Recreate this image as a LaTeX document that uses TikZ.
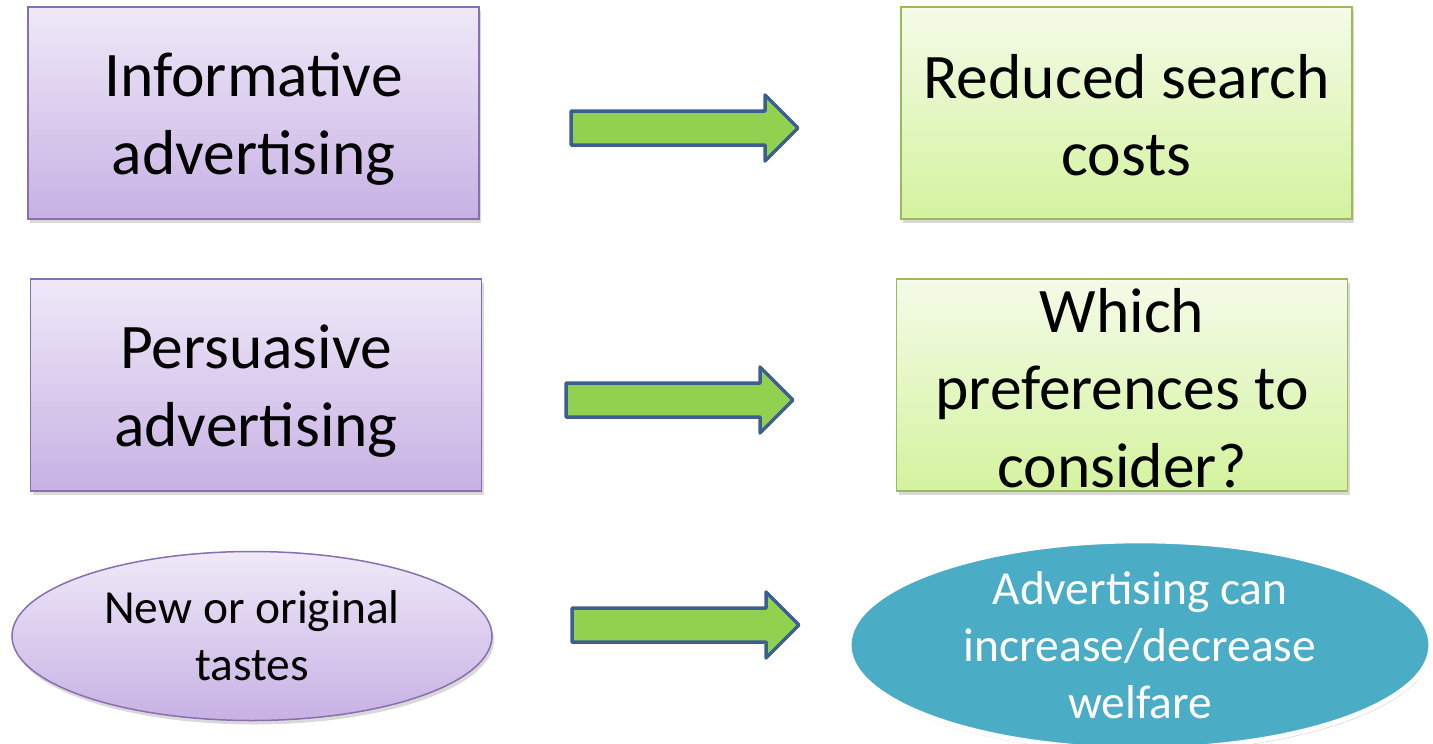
\documentclass[tikz,border=0pt]{standalone}
\usepackage{fontspec}
\setmainfont{Carlito}
\usetikzlibrary{shapes.geometric,shadows}
\definecolor{lavtop}{HTML}{EFE9F8}
\definecolor{lavbot}{HTML}{C7B1E4}
\definecolor{lavline}{HTML}{8A6FB0}
\definecolor{grntop}{HTML}{F4FBE8}
\definecolor{grnbot}{HTML}{D4F39E}
\definecolor{grnline}{HTML}{9BBB59}
\definecolor{tealfill}{HTML}{4BACC6}
\definecolor{arrfill}{HTML}{92D050}
\definecolor{arrline}{HTML}{3B5F8E}
\tikzset{
  softshadow/.style={drop shadow={shadow xshift=2pt,shadow yshift=-4pt,opacity=0.25,fill=black!60}},
  bigtext/.style={align=center,font=\fontsize{63.5}{77.5}\selectfont},
  smalltext/.style={align=center,font=\fontsize{47.5}{57}\selectfont},
  lavbox/.style={rectangle,draw=lavline,line width=1.8pt,top color=lavtop,bottom color=lavbot,
    minimum width=451pt,minimum height=212pt,softshadow},
  grnbox/.style={rectangle,draw=grnline,line width=1.8pt,top color=grntop,bottom color=grnbot,
    minimum width=451pt,minimum height=212pt,softshadow},
  lavoval/.style={ellipse,draw=lavline,line width=1.5pt,top color=lavtop,bottom color=lavbot,
    minimum width=480pt,minimum height=169pt,inner sep=0pt,softshadow,smalltext},
  tealoval/.style={ellipse,draw=white,line width=5pt,fill=tealfill,text=white,
    minimum width=582pt,minimum height=190pt,inner sep=0pt,
    drop shadow={shadow xshift=1pt,shadow yshift=-3pt,opacity=0.3,fill=black!50},smalltext},
  blockarrow/.style={fill=arrfill,draw=arrline,line width=3.5pt,line join=round},
}
\newcommand\fatarrow[1]{%
  \draw[blockarrow,shift={(#1)}] (0,-17) -- (194,-17) -- (194,-33) -- (227,0)
    -- (194,33) -- (194,17) -- (0,17) -- cycle;}
\begin{document}
\begin{tikzpicture}[x=1pt,y=-1pt]
  \useasboundingbox (0,0) rectangle (1433,744);
  % left column
  \node[lavbox] (info) at (253.5,113) {};
  \node[bigtext] (info-t) at ([yshift=-6pt]info.center) {Informative\\advertising};
  \node[lavbox] (pers) at (256,385) {};
  \node[bigtext] (pers-t) at ([yshift=-6pt]pers.center) {Persuasive\\advertising};
  \node[lavoval] (taste) at (252,636) {New or original\\tastes};
  % right column
  \node[grnbox] (search) at (1126.5,113) {};
  \node[bigtext] (search-t) at ([yshift=-2pt]search.center) {Reduced search\\costs};
  \node[grnbox] (pref) at (1122,385) {};
  \node[bigtext] (pref-t) at ([yshift=-3pt]pref.center) {Which\\preferences to\\consider?};
  \node[tealoval] (welf) at (1140,645) {Advertising can\\increase/decrease\\welfare};
  % block arrows between the columns
  \coordinate (a1) at (571,128);
  \coordinate (a2) at (566,400);
  \coordinate (a3) at (572,625);
  \fatarrow{a1}
  \fatarrow{a2}
  \fatarrow{a3}
\end{tikzpicture}
\end{document}
